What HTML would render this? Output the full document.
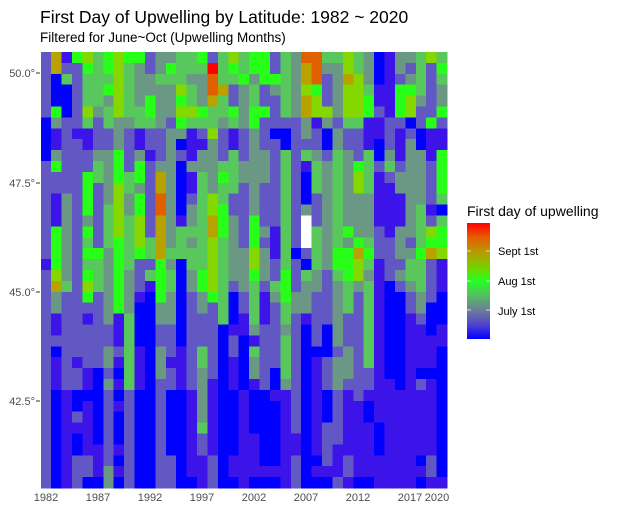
<!DOCTYPE html>
<html><head><meta charset="utf-8"><style>
body{margin:0;background:#fff;font-family:"Liberation Sans",sans-serif;}
svg text{font-family:"Liberation Sans",sans-serif;}
</style></head><body>
<svg id="s" width="620" height="513" xmlns="http://www.w3.org/2000/svg">
<defs><linearGradient id="lg" x1="0" y1="0" x2="0" y2="1">
<stop offset="0" stop-color="#ff0000"/>
<stop offset="0.12" stop-color="#e85a00"/>
<stop offset="0.25" stop-color="#b89a00"/>
<stop offset="0.40" stop-color="#6ed800"/>
<stop offset="0.50" stop-color="#22ff22"/>
<stop offset="0.62" stop-color="#55c060"/>
<stop offset="0.76" stop-color="#6a7a9a"/>
<stop offset="0.88" stop-color="#5040d0"/>
<stop offset="1" stop-color="#0000ff"/>
</linearGradient></defs>
<text x="40" y="23" font-size="17.5" fill="#000">First Day of Upwelling by Latitude: 1982 ~ 2020</text>
<text x="40" y="42" font-size="13.5" fill="#000">Filtered for June~Oct (Upwelling Months)</text>
<g id="cells" shape-rendering="crispEdges"></g>
<g font-size="11" fill="#4d4d4d" text-anchor="end">
<text x="35" y="77">50.0°</text><text x="35" y="187">47.5°</text><text x="35" y="296">45.0°</text><text x="35" y="405">42.5°</text>
</g>
<g font-size="11" fill="#4d4d4d" text-anchor="middle">
<text x="46" y="501">1982</text><text x="98" y="501">1987</text><text x="150" y="501">1992</text><text x="202" y="501">1997</text><text x="254" y="501">2002</text><text x="306" y="501">2007</text><text x="358" y="501">2012</text><text x="410" y="501">2017</text><text x="437" y="501">2020</text>
</g>
<g stroke="#333" stroke-width="1">
<line x1="36" y1="73" x2="40" y2="73"/><line x1="36" y1="183" x2="40" y2="183"/><line x1="36" y1="292" x2="40" y2="292"/><line x1="36" y1="401" x2="40" y2="401"/>
</g>
<text x="467" y="216" font-size="14" fill="#000">First day of upwelling</text>
<rect x="467" y="223" width="23" height="116" fill="url(#lg)"/>
<g stroke="#fff" stroke-opacity="0.7" stroke-width="1">
<line x1="467" y1="251" x2="471" y2="251"/><line x1="486" y1="251" x2="490" y2="251"/>
<line x1="467" y1="281" x2="471" y2="281"/><line x1="486" y1="281" x2="490" y2="281"/>
<line x1="467" y1="310" x2="471" y2="310"/><line x1="486" y1="310" x2="490" y2="310"/>
</g>
<g font-size="11" fill="#000">
<text x="498" y="255">Sept 1st</text><text x="498" y="285">Aug 1st</text><text x="498" y="315">July 1st</text>
</g>
</svg>
<script>
var rows=[
"pObLYGLYLLpggGGLpGYG"+"LLpGgRRGGYGgBbggGYG",
"pOppLGLYGgpgLGGGrGLG"+"LLpGgORggYGgBbgpGpL",
"pBGpGGGYGggGGGggRGGL"+"gLLGgORpgOYgBbpgGpG",
"pBBpGGLYGggggYGgROpg"+"GpgGgYLpgYYGbbLLGpg",
"pBBpGGgYGgLggLGgOGpg"+"GppGgOYpgYYLbbLYgpg",
"pLBpYgGYGGLggYYLGGLg"+"LLpGgOYYgYYLpbLYppL",
"BgppGpGggGGgpLGGGgGg"+"LppppgbgpGGbbppBpL",
"BbpbbppgpbppggbpYpbp"+"gpBBpgpBgppbbpbpBbb",
"BbppbppgpbppgBbbgpbp"+"gppBpppBgppbBpbgBbb",
"BgpppggLpgbpgpbggpGp"+"ggpGpGgpGgpGBgbggbL",
"pLpppGgLpLpggBgggGGg"+"ggpGpbGgGgLGpGpggpL",
"ppppLGgLGLpOgBbGgLGg"+"ggpGpBGgGgYGbpgggpL",
"ppppLpgYGgpOgBbGgGGp"+"gppGpBGgGgYGbbgggpL",
"pbgpLpgYgLpRgBpGYGpp"+"gppGpBpgGgggbbbggpG",
"pbgpLpGYgLpRgBgGYLpp"+"gppGpgpgGgggbbbgGbB",
"pbgpgpGYGYpOgbgGOLgp"+"LppGpWpgGgggbbbgGpG",
"pLgpLpGYGYpOgGGGOLgp"+"LgbGpWGgGLggpbggGYL",
"pLgpGpGLGYGOgGgGYGgp"+"LpbGpWGgGgLGppgpGLL",
"pLgpLLgLGLGOGGGGYGgg"+"YgbGBpGgLLOLppggLOY",
"bLgpGGgLGppLgBGGYGgg"+"YgpGpBGgLLYGbppGGpb",
"pYgpLGgLgpGLGBgLYGggLgpLpGgpGLYgbpgGGpb",
"pOGpYGgLgpbLGBgLYGpgGpGLpggpgGgGbBpgGpb",
"pgppLpgLgbBLgBpgLGBpGbgLggppgGpGbBBpgpB",
"pgpppPgLgBBggBpgpGBpGbpGggppgGpGbBBpgBB",
"pbppbpgbGBBggBpppGBbGbpGpbppgppGbBBbpBB",
"pbppppPbGBBppBpppBbbgppgpBpBgppGbBBbbBb",
"pppppppbGBBppBpppBpBbppGpBpBgppGbBBbbbb",
"pBppppgpGbBgpbpGpBpBGppGpBBBpgpGbBBbbbB",
"pbpbppgbGbBgbbpGpBbBgppGpBbpggpGbBBbbbB",
"pbppbBpBGbBgpbpgpBbBgpBGpBbpggppbBBbBBB",
"pbppbBgbGbBppbpgbBbBbpBgpBbpgpppbbBbpbB",
"pBbBBBpBpBBpBBbgbBBbBBbbpBbBpbpbbbbbbbB",
"pBbBbBpbpBBpBBbgbBBbBBBbpBbBpbbBbbbbbbB",
"pBbpbBpBpBBpBBbgbBBbBBBbpBbBpbbBbbbbbbB",
"pBbbbBpBpBBpBBbGbBBbBBBbpBbppbbbBbbbbbB",
"pBbBbBpBpBBpBBbpbBBbbBBbbBbppbbbBbbbbbB",
"pBbBbbpbpBBpBBbpbBBbbBBbbBbpbbbbBbbbbbB",
"pBbppbpBpBBppBbbpBbbbBBbpBBpbpbbbbbbBpB",
"pBbppbgbpBBppBbbpBbbbbbbpBbbbpbbbbbbbpB",
"pBbpBBgBpBBppBBbpBBbBBBbpBBBpbBBbbbbBbb"
];
var col={B:"#0000ff",b:"#3c14ea",p:"#6258c4",P:"#6258c4",g:"#6a9884",G:"#58c85c",L:"#28ff18",Y:"#84d800",O:"#b8a200",R:"#e06000",r:"#ff0000",W:"#ffffff"};
var g=document.getElementById("cells"),x0=40.8,y0=52,w=(447-40.8)/39,h=10.9,s="";
for(var r=0;r<40;r++){var row=rows[r];for(var c=0;c<39;c++){var ch=row.charAt(c)||"p";
s+='<rect x="'+(x0+c*w).toFixed(2)+'" y="'+(y0+r*h).toFixed(2)+'" width="'+(w+0.6).toFixed(2)+'" height="'+(h+0.6).toFixed(2)+'" fill="'+col[ch]+'"/>';}}
g.innerHTML=s;
</script>
</body></html>
